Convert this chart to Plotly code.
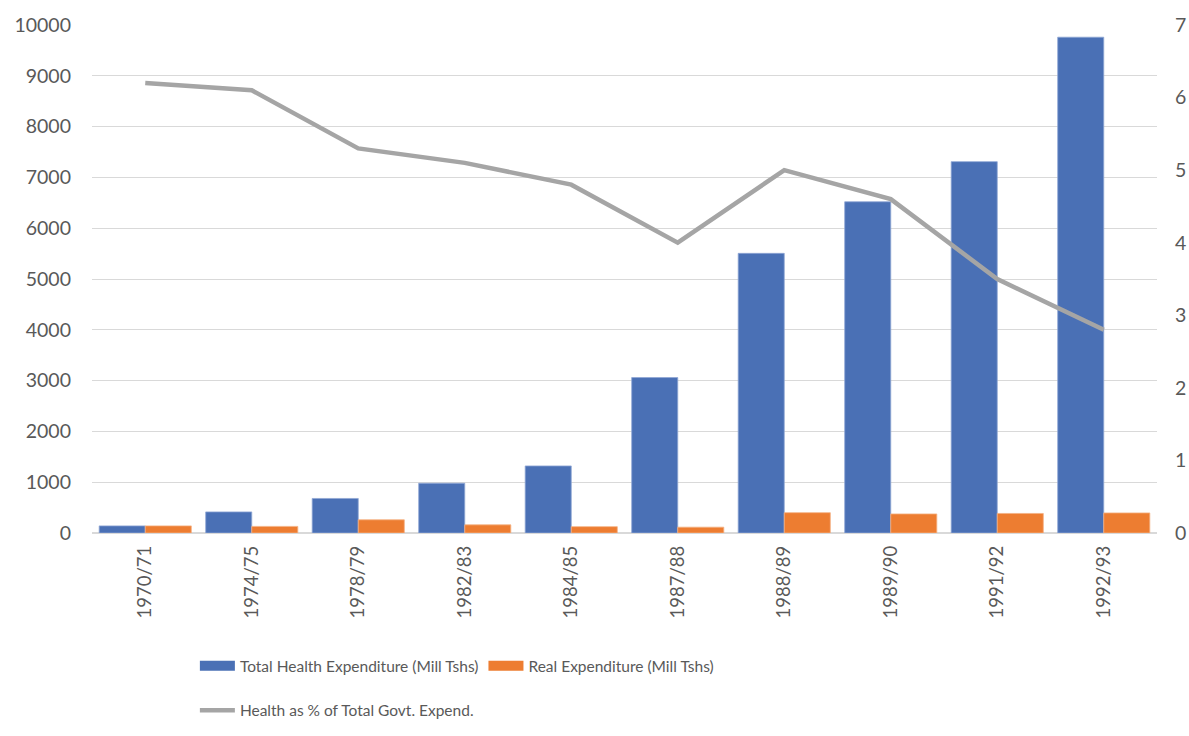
import plotly.graph_objects as go

categories = ["1970/71", "1974/75", "1978/79", "1982/83", "1984/85",
              "1987/88", "1988/89", "1989/90", "1991/92", "1992/93"]
total_exp = [140, 415, 680, 980, 1320, 3060, 5505, 6520, 7310, 9760]
real_exp = [140, 130, 260, 160, 125, 115, 400, 375, 385, 395]
health_pct = [6.2, 6.1, 5.3, 5.1, 4.8, 4.0, 5.0, 4.6, 3.5, 2.8]

BLUE = "#4A70B5"
ORANGE = "#ED7D31"
GREY = "#A5A5A5"
TXT = "#595959"
FONT = "Lato"

fig = go.Figure()
fig.add_trace(go.Bar(x=categories, y=total_exp, name="Total Health Expenditure (Mill Tshs)",
                     marker=dict(color=BLUE, line=dict(color="#8FA6D4", width=0.8)),
                     showlegend=False))
fig.add_trace(go.Bar(x=categories, y=real_exp, name="Real Expenditure (Mill Tshs)",
                     marker=dict(color=ORANGE, line=dict(color="#F4B183", width=0.8)),
                     showlegend=False))
fig.add_trace(go.Scatter(x=categories, y=health_pct, name="Health as % of Total Govt. Expend.",
                         mode="lines", line=dict(color=GREY, width=4.5), yaxis="y2",
                         legend="legend2"))
# legend swatches (wide rectangles like the original)
fig.add_trace(go.Scatter(x=[categories[0]], y=[None], mode="lines",
                         name="Total Health Expenditure (Mill Tshs)",
                         line=dict(color=BLUE, width=13), legend="legend"))
fig.add_trace(go.Scatter(x=[categories[0]], y=[None], mode="lines",
                         name="Real Expenditure (Mill Tshs)",
                         line=dict(color=ORANGE, width=13), legend="legend"))

fig.update_layout(
    width=1189, height=736,
    margin=dict(l=92, r=32, t=25, b=203, autoexpand=False),
    paper_bgcolor="white", plot_bgcolor="white",
    font=dict(family=FONT, color=TXT, size=19),
    barmode="group", bargap=0.135, bargroupgap=0,
    xaxis=dict(type="category", tickangle=-90, showgrid=False, showline=False,
               tickfont=dict(size=18.5, color=TXT), ticks="", ticklabelstandoff=8,
               automargin=False),
    yaxis=dict(range=[0, 10000], dtick=1000, tickformat="d", showgrid=True,
               gridcolor="#D9D9D9", gridwidth=1.3, zeroline=True, zerolinecolor="#D9D9D9",
               zerolinewidth=1.5, tickfont=dict(size=19.5, color=TXT),
               ticklabelstandoff=20, showline=False, automargin=False),
    yaxis2=dict(range=[0, 7], dtick=1, overlaying="y", side="right", showgrid=False,
                zeroline=False, tickfont=dict(size=19.5, color=TXT), ticklabelstandoff=17,
                showline=False, automargin=False),
    legend=dict(orientation="h", x=0.0966, xanchor="left", y=-0.262, yanchor="middle",
                font=dict(size=15.5, color=TXT), itemwidth=35, traceorder="normal",
                bgcolor="rgba(0,0,0,0)", tracegroupgap=0),
    legend2=dict(orientation="h", x=0.0966, xanchor="left", y=-0.350, yanchor="middle",
                 font=dict(size=15.5, color=TXT), itemwidth=35, bgcolor="rgba(0,0,0,0)"),
)

fig.write_html("out.html", config={"displayModeBar": False},
               post_script="document.body.style.margin='0';")
